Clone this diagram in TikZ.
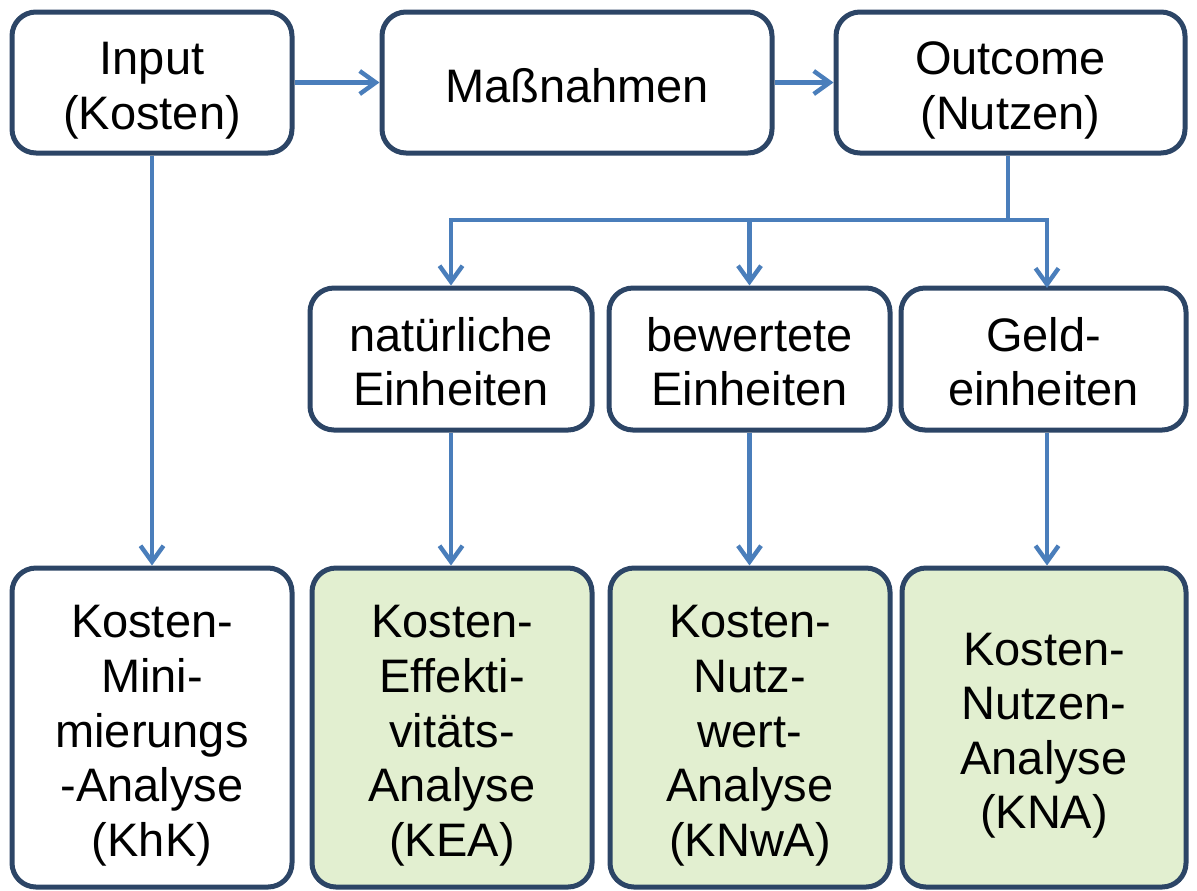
\documentclass[tikz,border=0pt]{standalone}
\usepackage{fontspec}
\setmainfont{Liberation Sans}
\usetikzlibrary{arrows.meta}
\definecolor{boxline}{HTML}{2C4566}
\definecolor{arrowblue}{HTML}{4A7EBB}
\definecolor{greenfill}{HTML}{E2EFD0}

% fixed first-line height and last-line depth so that every box sets its lines alike
\newcommand{\topstrut}{\rule{0pt}{25.5pt}}
\newcommand{\botstrut}{\rule[-6pt]{0pt}{0pt}}

\begin{document}
\begin{tikzpicture}[x=0.5pt,y=-0.5pt,
  box/.style={draw=boxline, line width=2.5pt, rounded corners=12pt, align=center,
    font=\fontsize{23.5}{27.3}\selectfont, inner sep=0pt},
  topbox/.style={box, minimum height=70.5pt},
  midbox/.style={box, minimum height=71pt},
  lowbox/.style={box, minimum height=159.5pt},
  greenbox/.style={fill=greenfill},
  conn/.style={draw=arrowblue, line width=2.2pt},
  arr/.style={conn, -{Straight Barb[length=8pt,width=11.5pt]}}
]
\useasboundingbox (0,0) rectangle (1197,890);

% first row
\node[topbox, minimum width=140pt]   (input)   at (152,82.5)    {\topstrut Input\\(Kosten)\botstrut};
\node[topbox, minimum width=195pt]   (mass)    at (577,82.5)    {\topstrut Maßnahmen\botstrut};
\node[topbox, minimum width=174.5pt] (outcome) at (1010.5,82.5) {\topstrut Outcome\\(Nutzen)\botstrut};

% kinds of outcome units
\node[midbox, minimum width=141pt]   (nat)  at (451,359)    {\topstrut natürliche\\Einheiten\botstrut};
\node[midbox, minimum width=140.5pt] (bew)  at (749.5,359)  {\topstrut bewertete\\Einheiten\botstrut};
\node[midbox, minimum width=142.5pt] (geld) at (1043.5,359) {\topstrut Geld-\\einheiten\botstrut};

% analysis types
\node[lowbox, minimum width=140pt] (khk)  at (152,727.5) {\topstrut Kosten-\\Mini-\\mierungs\\-Analyse\\(KhK)\botstrut};
\node[lowbox, greenbox, minimum width=140pt] (kea)  at (452,727.5) {\topstrut Kosten-\\Effekti-\\vitäts-\\Analyse\\(KEA)\botstrut};
\node[lowbox, greenbox, minimum width=140pt] (knwa) at (750,727.5) {\topstrut Kosten-\\Nutz-\\wert-\\Analyse\\(KNwA)\botstrut};
\node[lowbox, greenbox, minimum width=142pt] (kna)  at (1044,727.5) {\topstrut Kosten-\\Nutzen-\\Analyse\\(KNA)\botstrut};

% connectors
\draw[arr] (input.east) -- (mass.west);
\draw[arr] (mass.east) -- (outcome.west);
\draw[arr] (input.south) -- (khk.north);

\coordinate (split) at (1008,220);
\coordinate (geldin) at (1047,288);
\draw[conn] (outcome.south -| split) -- (split);
\draw[arr] (split) -| (nat.north);
\draw[arr] (split -| bew.north) -- (bew.north);
\draw[arr] (split) -| (geldin);

\draw[arr] (nat.south) -- (nat.south |- kea.north);
\draw[arr] (bew.south) -- (bew.south |- knwa.north);
\draw[arr] (geldin |- geld.south) -- (geldin |- kna.north);
\end{tikzpicture}
\end{document}
